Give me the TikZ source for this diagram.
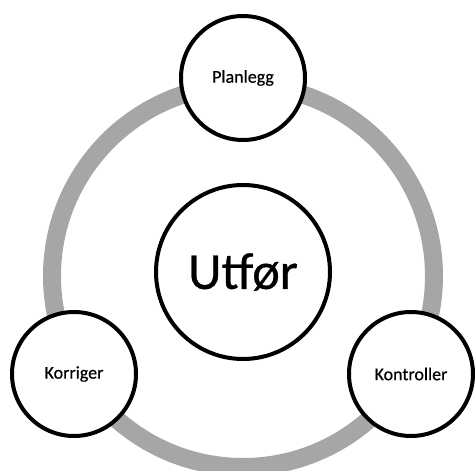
\documentclass[tikz,border=0pt]{standalone}
\usepackage{fontspec}
\setmainfont{Carlito}
\newfontfamily\labelfont[FakeBold=0.5]{Carlito}
\usepackage{xcolor}
\usepackage{tikz}
\usetikzlibrary{shapes,arrows}
\definecolor{ringgray}{HTML}{A6A6A6}
\tikzstyle{stepWH} = [circle, draw, line width=4pt, fill=white, minimum size=124pt, inner sep=0pt, text=black, font=\labelfont\fontsize{18}{20}\selectfont]
\tikzstyle{hubWH} = [circle, draw, line width=4pt, fill=white, minimum size=174pt, inner sep=0pt, text=black, font=\labelfont\fontsize{52}{56}\selectfont]
\tikzstyle{ring} = [draw=ringgray, line width=18pt]

\begin{document}
\begin{tikzpicture}[x=1pt, y=1pt, node distance = 194pt]
  % ramme
  \useasboundingbox (0,0) rectangle (475,-471);

  % ringen bak
  \coordinate (midt) at (243,-276);
  \path [ring] (midt) circle (191);

  % nodes
  \node [hubWH, above of = midt, node distance = 4pt] (utfor) {Utfør};
  \node [stepWH, above of = utfor] (planlegg) {Planlegg};
  \node [stepWH, left of = utfor, node distance = 169pt, yshift=-102pt] (korriger) {Korriger};
  \node [stepWH, right of = utfor, node distance = 168pt, yshift=-102pt] (kontroller) {Kontroller};
\end{tikzpicture}
\end{document}
